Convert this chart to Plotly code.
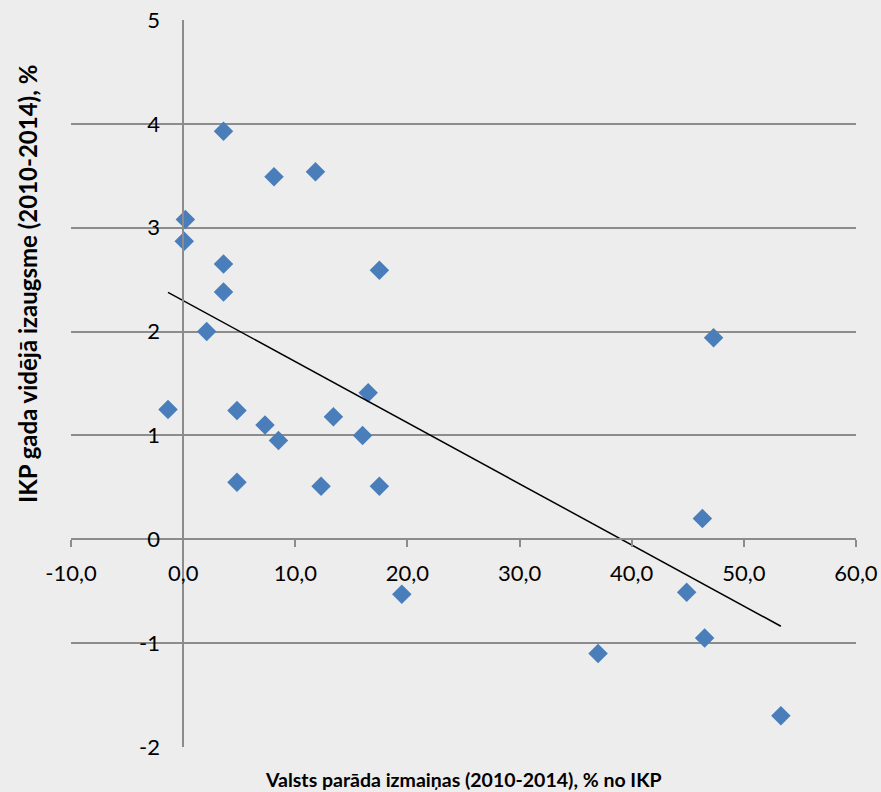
import numpy as np
import plotly.graph_objects as go

# Data
debt_change = [3.6, 8.1, 11.8, 0.2, 0.1, 3.6, 3.6, 17.5, 2.1, 47.3, -1.35, 4.8, 7.3, 8.5,
               13.4, 16.5, 16.0, 4.8, 12.3, 17.5, 46.3, 19.5, 44.9, 37.0, 46.5, 53.3]
gdp_growth = [3.93, 3.49, 3.54, 3.08, 2.87, 2.65, 2.38, 2.59, 2.00, 1.94, 1.25, 1.24, 1.10, 0.95,
              1.18, 1.41, 1.00, 0.55, 0.51, 0.51, 0.20, -0.53, -0.51, -1.10, -0.95, -1.70]

x_ticks = [-10, 0, 10, 20, 30, 40, 50, 60]
x_tick_labels = ["-10,0", "0,0", "10,0", "20,0", "30,0", "40,0", "50,0", "60,0"]
y_ticks = [-2, -1, 0, 1, 2, 3, 4, 5]
y_tick_labels = ["-2", "-1", "0", "1", "2", "3", "4", "5"]

x_title = "Valsts parāda izmaiņas (2010-2014), % no IKP"
y_title = "IKP gada vidējā izaugsme (2010-2014), %"

X_RANGE = [-10, 60]
Y_RANGE = [-2, 5]

# Linear trendline (least squares), spanning the data's x range
xa = np.array(debt_change)
ya = np.array(gdp_growth)
slope, intercept = np.polyfit(xa, ya, 1)
trend_x = [xa.min(), xa.max()]
trend_y = [slope * v + intercept for v in trend_x]

FONT = "Lato, Carlito, Calibri, sans-serif"
GRID = "#8C8C8C"
BG = "#EDEDED"

fig = go.Figure()
fig.add_trace(go.Scatter(
    x=debt_change, y=gdp_growth, mode="markers",
    marker=dict(symbol="diamond", size=15, color="#4A7EBB", line=dict(width=0)),
    showlegend=False, hoverinfo="x+y"))
fig.add_trace(go.Scatter(
    x=trend_x, y=trend_y, mode="lines",
    line=dict(color="black", width=1.5), showlegend=False, hoverinfo="skip"))

fig.update_layout(
    width=881, height=792,
    margin=dict(l=71, r=25, t=20, b=45, autoexpand=False),
    paper_bgcolor=BG, plot_bgcolor=BG,
    font=dict(family=FONT, size=22, color="black"),
    xaxis=dict(
        range=X_RANGE, anchor="free", automargin=False,
        position=(0 - Y_RANGE[0]) / (Y_RANGE[1] - Y_RANGE[0]),
        tickvals=x_ticks, ticktext=x_tick_labels,
        showgrid=False, zeroline=False,
        showline=True, linecolor=GRID, linewidth=1.5,
        ticks="outside", ticklen=7, tickcolor=GRID, tickwidth=1.5,
        ticklabelstandoff=8,
        tickfont=dict(family=FONT, size=22, color="black")),
    yaxis=dict(
        range=Y_RANGE, anchor="free", automargin=False,
        position=(0 - X_RANGE[0]) / (X_RANGE[1] - X_RANGE[0]),
        tickvals=y_ticks, ticktext=y_tick_labels,
        showgrid=True, gridcolor=GRID, gridwidth=1.5,
        zeroline=False,
        showline=True, linecolor=GRID, linewidth=1.5,
        ticks="", ticklabelstandoff=18,
        tickfont=dict(family=FONT, size=22, color="black")),
    annotations=[
        dict(text="<b>" + x_title + "</b>", xref="paper", yref="paper",
             x=0.5, y=0, yshift=-32, showarrow=False,
             font=dict(family=FONT, size=19.5, color="black"), yanchor="middle"),
        dict(text="<b>" + y_title + "</b>", xref="paper", yref="paper",
             x=0, y=0.637, xshift=-43, textangle=-90, showarrow=False,
             font=dict(family=FONT, size=24, color="black"), xanchor="center"),
    ],
)

fig.write_html(
    "out.html",
    config={"displayModeBar": False},
    post_script="document.body.style.margin='0';document.body.style.background='" + BG + "';",
)
